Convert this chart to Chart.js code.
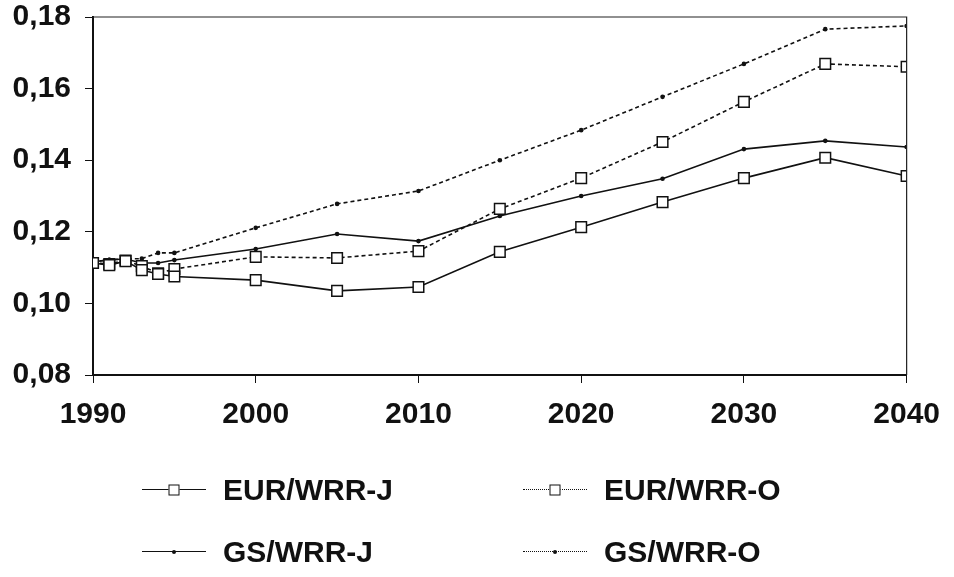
<!DOCTYPE html>
<html>
<head>
<meta charset="utf-8">
<script src="https://cdn.jsdelivr.net/npm/chart.js@4/dist/chart.umd.min.js"></script>
<style>
  html, body { margin: 0; padding: 0; background: #fff; }
  #wrap { position: relative; width: 954px; height: 577px; }
  #grafik { position: absolute; left: 0; top: 0; }
  .leg { position: absolute; display: flex; align-items: center; font-family: 'Liberation Sans', Arial, sans-serif; font-weight: bold; font-size: 30px; color: #111; }
  .sample { position: relative; width: 64px; height: 0; margin-right: 17px; }
  .sample .garis { position: absolute; left: 0; right: 0; top: -1px; }
  .sample .titik { position: absolute; left: 50%; top: 0; transform: translate(-50%, -50%); }
</style>
</head>
<body>
<div id="wrap">
  <canvas id="grafik" width="954" height="577"></canvas>
  <div id="legenda"></div>
</div>
<script>
// data
const tahun = [1990, 1991, 1992, 1993, 1994, 1995, 2000, 2005, 2010, 2015, 2020, 2025, 2030, 2035, 2040];
const eurJ = [0.1113, 0.1107, 0.1118, 0.1093, 0.1082, 0.1075, 0.1065, 0.1035, 0.1046, 0.1144, 0.1213, 0.1283, 0.1350, 0.1407, 0.1356];
const eurO = [0.1113, 0.1110, 0.1120, 0.1104, 0.1084, 0.1096, 0.1130, 0.1127, 0.1146, 0.1264, 0.1350, 0.1451, 0.1563, 0.1669, 0.1661];
const gsJ  = [0.1116, 0.1122, 0.1124, 0.1113, 0.1113, 0.1121, 0.1152, 0.1194, 0.1174, 0.1244, 0.1300, 0.1348, 0.1431, 0.1454, 0.1437];
const gsO  = [0.1116, 0.1122, 0.1124, 0.1125, 0.1141, 0.1141, 0.1211, 0.1278, 0.1314, 0.1400, 0.1484, 0.1577, 0.1669, 0.1766, 0.1775];
const namaSeri = ['EUR/WRR-J', 'EUR/WRR-O', 'GS/WRR-J', 'GS/WRR-O'];

const FONT = { family: "'Liberation Sans', Arial, sans-serif", weight: 'bold', size: 30 };
const dash = [4, 3];

function titik(arr) {
    return arr.map(function (v, i) { return { x: tahun[i], y: v }; });
}

function seri(label, arr, kotak, putus) {
    return {
        label: label,
        data: titik(arr),
        borderColor: '#111',
        borderWidth: 1.6,
        borderDash: putus ? dash : [],
        pointStyle: kotak ? 'rect' : 'circle',
        pointRadius: kotak ? 7.5 : 2.3,
        pointBackgroundColor: kotak ? '#fff' : '#111',
        pointBorderColor: '#111',
        pointBorderWidth: kotak ? 1.5 : 0,
        tension: 0,
    };
}

// bingkai atas dan kanan
const bingkai = {
    id: 'bingkai',
    afterDraw(chart) {
        const a = chart.chartArea;
        const ctx = chart.ctx;
        ctx.save();
        ctx.strokeStyle = '#222';
        ctx.lineWidth = 1.2;
        ctx.beginPath();
        ctx.moveTo(a.left, a.top);
        ctx.lineTo(a.right, a.top);
        ctx.lineTo(a.right, a.bottom);
        ctx.stroke();
        ctx.restore();
    }
};

const config = {
    type: 'line',
    data: {
        datasets: [
            seri(namaSeri[0], eurJ, true, false),
            seri(namaSeri[1], eurO, true, true),
            seri(namaSeri[2], gsJ, false, false),
            seri(namaSeri[3], gsO, false, true),
        ],
    },
    options: {
        responsive: false,
        animation: false,
        layout: { padding: { top: 17, right: 46, bottom: 142, left: 0 } },
        plugins: { legend: { display: false }, tooltip: { enabled: false } },
        scales: {
            x: {
                type: 'linear',
                min: 1990,
                max: 2040,
                ticks: {
                    stepSize: 10,
                    color: '#111',
                    font: FONT,
                    padding: 14,
                    maxRotation: 0,
                    callback: function (v) { return String(v); },
                },
                grid: { drawOnChartArea: false, tickLength: 8, color: '#111', tickColor: '#111' },
                border: { color: '#111', width: 2 },
                afterFit(scale) { scale.height = 60; },
            },
            y: {
                min: 0.08,
                max: 0.18,
                ticks: {
                    stepSize: 0.02,
                    color: '#111',
                    font: FONT,
                    padding: 14,
                    callback: function (v) { return v.toFixed(2).replace('.', ','); },
                },
                grid: { drawOnChartArea: false, tickLength: 8, color: '#111', tickColor: '#111' },
                border: { color: '#111', width: 2 },
                afterFit(scale) {
                    scale.width = 93;
                    scale.paddingTop = 0;
                    scale.paddingBottom = 0;
                },
            },
        },
    },
    plugins: [bingkai],
};

new Chart(document.getElementById('grafik').getContext('2d'), config);

// legenda HTML, dua kolom
const legenda = document.getElementById('legenda');
const posisi = [[142, 490], [523, 490], [142, 552], [523, 552]];
config.data.datasets.forEach(function (ds, i) {
    const el = document.createElement('div');
    el.className = 'leg';
    el.style.left = posisi[i][0] + 'px';
    el.style.top = (posisi[i][1] - 20) + 'px';
    el.style.height = '40px';
    const putus = ds.borderDash.length > 0;
    const kotak = ds.pointStyle === 'rect';
    const marker = kotak
        ? '<span class="titik" style="width:9px;height:9px;border:1.5px solid #111;background:#fff"></span>'
        : '<span class="titik" style="width:4px;height:4px;border-radius:50%;background:#111"></span>';
    el.innerHTML = '<span class="sample"><span class="garis" style="border-top:1.6px ' + (putus ? 'dotted' : 'solid') + ' #111"></span>' + marker + '</span><span>' + ds.label + '</span>';
    legenda.appendChild(el);
});
</script>
</body>
</html>
